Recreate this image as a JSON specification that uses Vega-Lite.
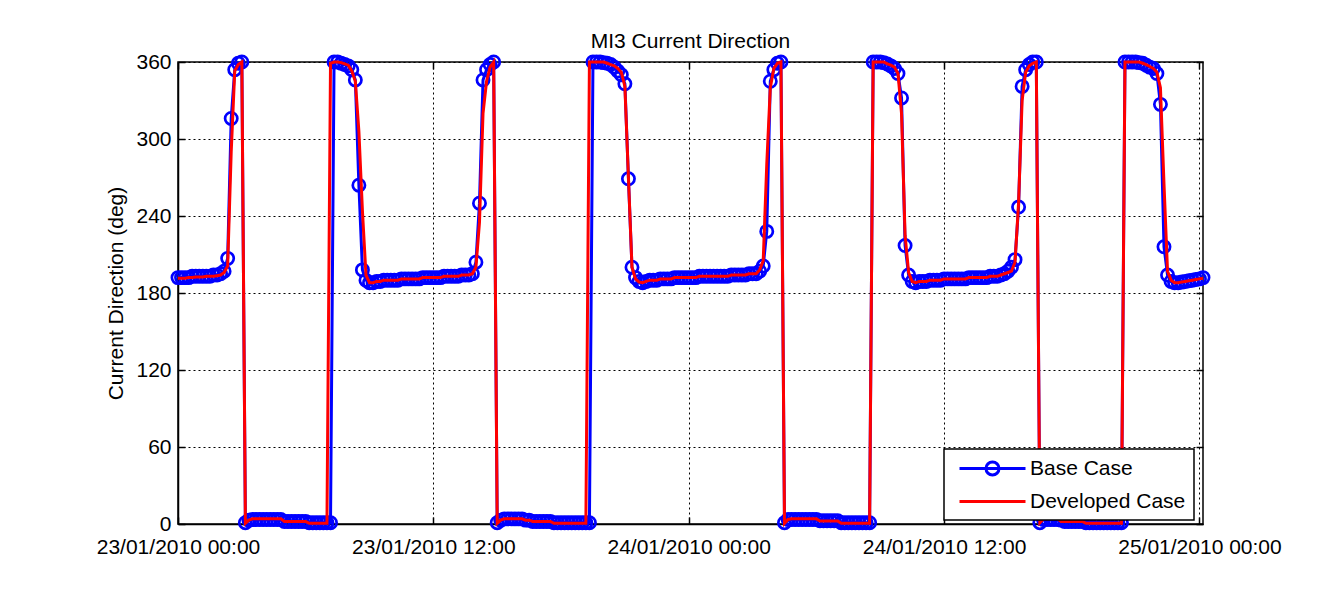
{
  "$schema": "https://vega.github.io/schema/vega-lite/v6.json",
  "width": 1025,
  "height": 462,
  "autosize": {"type": "none"},
  "padding": {"left": 178, "top": 62, "right": 132, "bottom": 76},
  "background": "white",
  "title": {"text": "MI3 Current Direction", "fontSize": 21, "fontWeight": "normal", "font": "Liberation Sans", "color": "black", "frame": "group", "anchor": "middle", "baseline": "alphabetic", "offset": 14, "dy": 33},
  "data": {"values": [
    {"t":"2010-01-23T00:00Z","b":192,"d":191.5},{"t":"2010-01-23T00:10Z","b":192,"d":191.5},{"t":"2010-01-23T00:20Z","b":192,"d":191.5},{"t":"2010-01-23T00:30Z","b":192,"d":192},{"t":"2010-01-23T00:40Z","b":193,"d":192},{"t":"2010-01-23T00:50Z","b":193,"d":192.5},
    {"t":"2010-01-23T01:00Z","b":193,"d":192.5},{"t":"2010-01-23T01:10Z","b":193,"d":192.5},{"t":"2010-01-23T01:20Z","b":193,"d":193},{"t":"2010-01-23T01:30Z","b":193,"d":193},{"t":"2010-01-23T01:40Z","b":194,"d":193},{"t":"2010-01-23T01:50Z","b":194,"d":193.5},
    {"t":"2010-01-23T02:00Z","b":195,"d":194},{"t":"2010-01-23T02:10Z","b":197,"d":196},{"t":"2010-01-23T02:20Z","b":207,"d":201},{"t":"2010-01-23T02:30Z","b":316,"d":290},{"t":"2010-01-23T02:40Z","b":354,"d":353},{"t":"2010-01-23T02:50Z","b":359,"d":358},
    {"t":"2010-01-23T03:00Z","b":360,"d":360},{"t":"2010-01-23T03:10Z","b":1,"d":0.5},{"t":"2010-01-23T03:20Z","b":3,"d":3},{"t":"2010-01-23T03:30Z","b":3.5,"d":4},{"t":"2010-01-23T03:40Z","b":3.5,"d":4},{"t":"2010-01-23T03:50Z","b":3.5,"d":4},
    {"t":"2010-01-23T04:00Z","b":3.5,"d":4},{"t":"2010-01-23T04:10Z","b":3.5,"d":4},{"t":"2010-01-23T04:20Z","b":3.5,"d":4},{"t":"2010-01-23T04:30Z","b":3.5,"d":4},{"t":"2010-01-23T04:40Z","b":3.5,"d":4},{"t":"2010-01-23T04:50Z","b":3.5,"d":4},
    {"t":"2010-01-23T05:00Z","b":2,"d":2},{"t":"2010-01-23T05:10Z","b":2,"d":2},{"t":"2010-01-23T05:20Z","b":2,"d":2},{"t":"2010-01-23T05:30Z","b":2,"d":2},{"t":"2010-01-23T05:40Z","b":2,"d":2},{"t":"2010-01-23T05:50Z","b":2,"d":2},
    {"t":"2010-01-23T06:00Z","b":2,"d":2},{"t":"2010-01-23T06:10Z","b":1,"d":0.5},{"t":"2010-01-23T06:20Z","b":1,"d":0.5},{"t":"2010-01-23T06:30Z","b":1,"d":0.5},{"t":"2010-01-23T06:40Z","b":1,"d":0.5},{"t":"2010-01-23T06:50Z","b":1,"d":0.5},
    {"t":"2010-01-23T07:00Z","b":1,"d":0.5},{"t":"2010-01-23T07:10Z","b":1,"d":359},{"t":"2010-01-23T07:20Z","b":360,"d":360},{"t":"2010-01-23T07:30Z","b":360,"d":360},{"t":"2010-01-23T07:40Z","b":359,"d":359.5},{"t":"2010-01-23T07:50Z","b":358,"d":358.5},
    {"t":"2010-01-23T08:00Z","b":357,"d":357.5},{"t":"2010-01-23T08:10Z","b":354,"d":353},{"t":"2010-01-23T08:20Z","b":346,"d":345},{"t":"2010-01-23T08:30Z","b":264,"d":306},{"t":"2010-01-23T08:40Z","b":198,"d":244},{"t":"2010-01-23T08:50Z","b":190,"d":194},
    {"t":"2010-01-23T09:00Z","b":188,"d":188},{"t":"2010-01-23T09:10Z","b":188,"d":188},{"t":"2010-01-23T09:20Z","b":189,"d":189},{"t":"2010-01-23T09:30Z","b":189,"d":189},{"t":"2010-01-23T09:40Z","b":190,"d":190},{"t":"2010-01-23T09:50Z","b":190,"d":190},
    {"t":"2010-01-23T10:00Z","b":190,"d":190},{"t":"2010-01-23T10:10Z","b":190,"d":190},{"t":"2010-01-23T10:20Z","b":190,"d":190},{"t":"2010-01-23T10:30Z","b":191,"d":191},{"t":"2010-01-23T10:40Z","b":191,"d":191},{"t":"2010-01-23T10:50Z","b":191,"d":191},
    {"t":"2010-01-23T11:00Z","b":191,"d":191},{"t":"2010-01-23T11:10Z","b":191,"d":191},{"t":"2010-01-23T11:20Z","b":191,"d":191},{"t":"2010-01-23T11:30Z","b":192,"d":192},{"t":"2010-01-23T11:40Z","b":192,"d":192},{"t":"2010-01-23T11:50Z","b":192,"d":192},
    {"t":"2010-01-23T12:00Z","b":192,"d":192},{"t":"2010-01-23T12:10Z","b":192,"d":192},{"t":"2010-01-23T12:20Z","b":192,"d":192},{"t":"2010-01-23T12:30Z","b":193,"d":193},{"t":"2010-01-23T12:40Z","b":193,"d":193},{"t":"2010-01-23T12:50Z","b":193,"d":193},
    {"t":"2010-01-23T13:00Z","b":193,"d":193},{"t":"2010-01-23T13:10Z","b":193,"d":193},{"t":"2010-01-23T13:20Z","b":194,"d":194},{"t":"2010-01-23T13:30Z","b":194,"d":194},{"t":"2010-01-23T13:40Z","b":194,"d":194},{"t":"2010-01-23T13:50Z","b":195,"d":195},
    {"t":"2010-01-23T14:00Z","b":204,"d":200},{"t":"2010-01-23T14:10Z","b":250,"d":235},{"t":"2010-01-23T14:20Z","b":346,"d":320},{"t":"2010-01-23T14:30Z","b":354,"d":345},{"t":"2010-01-23T14:40Z","b":358,"d":356},{"t":"2010-01-23T14:50Z","b":360,"d":360},
    {"t":"2010-01-23T15:00Z","b":1,"d":0.5},{"t":"2010-01-23T15:10Z","b":3,"d":3},{"t":"2010-01-23T15:20Z","b":4,"d":4},{"t":"2010-01-23T15:30Z","b":4,"d":4},{"t":"2010-01-23T15:40Z","b":4,"d":4},{"t":"2010-01-23T15:50Z","b":4,"d":4},
    {"t":"2010-01-23T16:00Z","b":4,"d":4},{"t":"2010-01-23T16:10Z","b":4,"d":4},{"t":"2010-01-23T16:20Z","b":3,"d":3},{"t":"2010-01-23T16:30Z","b":3,"d":3},{"t":"2010-01-23T16:40Z","b":2,"d":2},{"t":"2010-01-23T16:50Z","b":2,"d":2},
    {"t":"2010-01-23T17:00Z","b":2,"d":2},{"t":"2010-01-23T17:10Z","b":2,"d":2},{"t":"2010-01-23T17:20Z","b":2,"d":2},{"t":"2010-01-23T17:30Z","b":2,"d":2},{"t":"2010-01-23T17:40Z","b":1,"d":0.5},{"t":"2010-01-23T17:50Z","b":1,"d":0.5},
    {"t":"2010-01-23T18:00Z","b":1,"d":0.5},{"t":"2010-01-23T18:10Z","b":1,"d":0.5},{"t":"2010-01-23T18:20Z","b":1,"d":0.5},{"t":"2010-01-23T18:30Z","b":1,"d":0.5},{"t":"2010-01-23T18:40Z","b":1,"d":0.5},{"t":"2010-01-23T18:50Z","b":1,"d":0.5},
    {"t":"2010-01-23T19:00Z","b":1,"d":0.5},{"t":"2010-01-23T19:10Z","b":1,"d":0.5},{"t":"2010-01-23T19:20Z","b":1,"d":360},{"t":"2010-01-23T19:30Z","b":360,"d":360},{"t":"2010-01-23T19:40Z","b":360,"d":360},{"t":"2010-01-23T19:50Z","b":360,"d":360},
    {"t":"2010-01-23T20:00Z","b":359.5,"d":360},{"t":"2010-01-23T20:10Z","b":359,"d":359},{"t":"2010-01-23T20:20Z","b":358,"d":358},{"t":"2010-01-23T20:30Z","b":356,"d":357},{"t":"2010-01-23T20:40Z","b":353,"d":355},{"t":"2010-01-23T20:50Z","b":350,"d":352},
    {"t":"2010-01-23T21:00Z","b":343,"d":341},{"t":"2010-01-23T21:10Z","b":269,"d":270},{"t":"2010-01-23T21:20Z","b":200,"d":200},{"t":"2010-01-23T21:30Z","b":192,"d":191},{"t":"2010-01-23T21:40Z","b":189,"d":188.5},{"t":"2010-01-23T21:50Z","b":188,"d":188},
    {"t":"2010-01-23T22:00Z","b":189,"d":189},{"t":"2010-01-23T22:10Z","b":190,"d":190},{"t":"2010-01-23T22:20Z","b":190,"d":190},{"t":"2010-01-23T22:30Z","b":190,"d":190},{"t":"2010-01-23T22:40Z","b":191,"d":191},{"t":"2010-01-23T22:50Z","b":191,"d":191},
    {"t":"2010-01-23T23:00Z","b":191,"d":191},{"t":"2010-01-23T23:10Z","b":191,"d":191},{"t":"2010-01-23T23:20Z","b":192,"d":192},{"t":"2010-01-23T23:30Z","b":192,"d":192},{"t":"2010-01-23T23:40Z","b":192,"d":192},{"t":"2010-01-23T23:50Z","b":192,"d":192},
    {"t":"2010-01-24T00:00Z","b":192,"d":192},{"t":"2010-01-24T00:10Z","b":192,"d":192},{"t":"2010-01-24T00:20Z","b":192,"d":192},{"t":"2010-01-24T00:30Z","b":193,"d":193},{"t":"2010-01-24T00:40Z","b":193,"d":193},{"t":"2010-01-24T00:50Z","b":193,"d":193},
    {"t":"2010-01-24T01:00Z","b":193,"d":193},{"t":"2010-01-24T01:10Z","b":193,"d":193},{"t":"2010-01-24T01:20Z","b":193,"d":193},{"t":"2010-01-24T01:30Z","b":193,"d":193},{"t":"2010-01-24T01:40Z","b":193,"d":193},{"t":"2010-01-24T01:50Z","b":193,"d":193},
    {"t":"2010-01-24T02:00Z","b":194,"d":194},{"t":"2010-01-24T02:10Z","b":194,"d":194},{"t":"2010-01-24T02:20Z","b":194,"d":194},{"t":"2010-01-24T02:30Z","b":194,"d":194},{"t":"2010-01-24T02:40Z","b":194,"d":194},{"t":"2010-01-24T02:50Z","b":195,"d":195},
    {"t":"2010-01-24T03:00Z","b":195,"d":195},{"t":"2010-01-24T03:10Z","b":195,"d":195},{"t":"2010-01-24T03:20Z","b":197,"d":198},{"t":"2010-01-24T03:30Z","b":201,"d":205},{"t":"2010-01-24T03:40Z","b":228,"d":280},{"t":"2010-01-24T03:50Z","b":345,"d":340},
    {"t":"2010-01-24T04:00Z","b":354,"d":355},{"t":"2010-01-24T04:10Z","b":359,"d":359},{"t":"2010-01-24T04:20Z","b":360,"d":360},{"t":"2010-01-24T04:30Z","b":1,"d":0.5},{"t":"2010-01-24T04:40Z","b":3.5,"d":3.5},{"t":"2010-01-24T04:50Z","b":3.5,"d":4},
    {"t":"2010-01-24T05:00Z","b":3.5,"d":4},{"t":"2010-01-24T05:10Z","b":3.5,"d":4},{"t":"2010-01-24T05:20Z","b":3.5,"d":4},{"t":"2010-01-24T05:30Z","b":3.5,"d":4},{"t":"2010-01-24T05:40Z","b":3.5,"d":4},{"t":"2010-01-24T05:50Z","b":3.5,"d":4},
    {"t":"2010-01-24T06:00Z","b":3.5,"d":4},{"t":"2010-01-24T06:10Z","b":2.5,"d":2.3},{"t":"2010-01-24T06:20Z","b":2.5,"d":2.3},{"t":"2010-01-24T06:30Z","b":2.5,"d":2.3},{"t":"2010-01-24T06:40Z","b":2.5,"d":2.3},{"t":"2010-01-24T06:50Z","b":2.5,"d":2.3},
    {"t":"2010-01-24T07:00Z","b":2.5,"d":2.3},{"t":"2010-01-24T07:10Z","b":1,"d":0.5},{"t":"2010-01-24T07:20Z","b":1,"d":0.5},{"t":"2010-01-24T07:30Z","b":1,"d":0.5},{"t":"2010-01-24T07:40Z","b":1,"d":0.5},{"t":"2010-01-24T07:50Z","b":1,"d":0.5},
    {"t":"2010-01-24T08:00Z","b":1,"d":0.5},{"t":"2010-01-24T08:10Z","b":1,"d":0.5},{"t":"2010-01-24T08:20Z","b":1,"d":0.5},{"t":"2010-01-24T08:30Z","b":1,"d":0.5},{"t":"2010-01-24T08:40Z","b":360,"d":360},{"t":"2010-01-24T08:50Z","b":360,"d":360},
    {"t":"2010-01-24T09:00Z","b":360,"d":360},{"t":"2010-01-24T09:10Z","b":359.5,"d":360},{"t":"2010-01-24T09:20Z","b":358.5,"d":358.5},{"t":"2010-01-24T09:30Z","b":357,"d":357.5},{"t":"2010-01-24T09:40Z","b":355,"d":356},{"t":"2010-01-24T09:50Z","b":351,"d":351},
    {"t":"2010-01-24T10:00Z","b":332,"d":320},{"t":"2010-01-24T10:10Z","b":217,"d":225},{"t":"2010-01-24T10:20Z","b":194,"d":196},{"t":"2010-01-24T10:30Z","b":189,"d":189},{"t":"2010-01-24T10:40Z","b":188,"d":188},{"t":"2010-01-24T10:50Z","b":189,"d":189},
    {"t":"2010-01-24T11:00Z","b":189,"d":189},{"t":"2010-01-24T11:10Z","b":189,"d":189},{"t":"2010-01-24T11:20Z","b":190,"d":190},{"t":"2010-01-24T11:30Z","b":190,"d":190},{"t":"2010-01-24T11:40Z","b":190,"d":190},{"t":"2010-01-24T11:50Z","b":190,"d":190},
    {"t":"2010-01-24T12:00Z","b":191,"d":191},{"t":"2010-01-24T12:10Z","b":191,"d":191},{"t":"2010-01-24T12:20Z","b":191,"d":191},{"t":"2010-01-24T12:30Z","b":191,"d":191},{"t":"2010-01-24T12:40Z","b":191,"d":191},{"t":"2010-01-24T12:50Z","b":191,"d":191},
    {"t":"2010-01-24T13:00Z","b":191,"d":191},{"t":"2010-01-24T13:10Z","b":192,"d":192},{"t":"2010-01-24T13:20Z","b":192,"d":192},{"t":"2010-01-24T13:30Z","b":192,"d":192},{"t":"2010-01-24T13:40Z","b":192,"d":192},{"t":"2010-01-24T13:50Z","b":192,"d":192},
    {"t":"2010-01-24T14:00Z","b":192,"d":192},{"t":"2010-01-24T14:10Z","b":193,"d":193},{"t":"2010-01-24T14:20Z","b":193,"d":193},{"t":"2010-01-24T14:30Z","b":193,"d":193},{"t":"2010-01-24T14:40Z","b":194,"d":194},{"t":"2010-01-24T14:50Z","b":195,"d":195},
    {"t":"2010-01-24T15:00Z","b":197,"d":196},{"t":"2010-01-24T15:10Z","b":200,"d":197},{"t":"2010-01-24T15:20Z","b":206,"d":204},{"t":"2010-01-24T15:30Z","b":247,"d":250},{"t":"2010-01-24T15:40Z","b":341,"d":330},{"t":"2010-01-24T15:50Z","b":354,"d":352},
    {"t":"2010-01-24T16:00Z","b":358,"d":357},{"t":"2010-01-24T16:10Z","b":360,"d":359},{"t":"2010-01-24T16:20Z","b":360,"d":360},{"t":"2010-01-24T16:30Z","b":1,"d":1},{"t":"2010-01-24T16:40Z","b":3.5,"d":4},{"t":"2010-01-24T16:50Z","b":3.5,"d":4},
    {"t":"2010-01-24T17:00Z","b":3.5,"d":4},{"t":"2010-01-24T17:10Z","b":3.5,"d":4},{"t":"2010-01-24T17:20Z","b":3.5,"d":4},{"t":"2010-01-24T17:30Z","b":3,"d":2},{"t":"2010-01-24T17:40Z","b":2,"d":2},{"t":"2010-01-24T17:50Z","b":2,"d":2},
    {"t":"2010-01-24T18:00Z","b":2,"d":2},{"t":"2010-01-24T18:10Z","b":2,"d":2},{"t":"2010-01-24T18:20Z","b":2,"d":2},{"t":"2010-01-24T18:30Z","b":2,"d":2},{"t":"2010-01-24T18:40Z","b":1,"d":0.5},{"t":"2010-01-24T18:50Z","b":1,"d":0.5},
    {"t":"2010-01-24T19:00Z","b":1,"d":0.5},{"t":"2010-01-24T19:10Z","b":1,"d":0.5},{"t":"2010-01-24T19:20Z","b":1,"d":0.5},{"t":"2010-01-24T19:30Z","b":1,"d":0.5},{"t":"2010-01-24T19:40Z","b":1,"d":0.5},{"t":"2010-01-24T19:50Z","b":1,"d":0.5},
    {"t":"2010-01-24T20:00Z","b":1,"d":0.5},{"t":"2010-01-24T20:10Z","b":1,"d":0.5},{"t":"2010-01-24T20:20Z","b":1,"d":0.5},{"t":"2010-01-24T20:30Z","b":360,"d":360},{"t":"2010-01-24T20:40Z","b":360,"d":360},{"t":"2010-01-24T20:50Z","b":360,"d":360},
    {"t":"2010-01-24T21:00Z","b":360,"d":360},{"t":"2010-01-24T21:10Z","b":359.5,"d":360},{"t":"2010-01-24T21:20Z","b":359,"d":359},{"t":"2010-01-24T21:30Z","b":357.5,"d":358},{"t":"2010-01-24T21:40Z","b":356,"d":356.5},{"t":"2010-01-24T21:50Z","b":355,"d":355},
    {"t":"2010-01-24T22:00Z","b":351,"d":352},{"t":"2010-01-24T22:10Z","b":327,"d":340},{"t":"2010-01-24T22:20Z","b":216,"d":265},{"t":"2010-01-24T22:30Z","b":194,"d":197},{"t":"2010-01-24T22:40Z","b":189,"d":190},{"t":"2010-01-24T22:50Z","b":188,"d":188},
    {"t":"2010-01-24T23:00Z","b":188,"d":188},{"t":"2010-01-24T23:10Z","b":188.5,"d":188.5},{"t":"2010-01-24T23:20Z","b":189,"d":189},{"t":"2010-01-24T23:30Z","b":189.5,"d":189.5},{"t":"2010-01-24T23:40Z","b":190,"d":190},{"t":"2010-01-24T23:50Z","b":190.5,"d":190.5},
    {"t":"2010-01-25T00:00Z","b":191,"d":191},{"t":"2010-01-25T00:10Z","b":192,"d":191.5}
  ]},
  "config": {
    "view": {"stroke": "black", "strokeWidth": 1.5},
    "axis": {"labelFont": "Liberation Sans", "labelFontSize": 21, "labelColor": "black", "titleFont": "Liberation Sans", "titleFontSize": 21, "titleFontWeight": "normal", "titleColor": "black", "domainColor": "black", "domainWidth": 1.5, "tickColor": "black", "tickWidth": 1.5, "tickSize": -7, "gridColor": "black", "gridDash": [2, 3], "gridOpacity": 1, "gridWidth": 1},
    "legend": {"orient": "none", "legendX": 766, "legendY": 387, "fillColor": "white", "strokeColor": "black", "strokeWidth": 1.5, "padding": 8, "symbolSize": 400, "symbolStrokeWidth": 3, "symbolOpacity": 1, "symbolFillColor": "transparent", "symbolOffset": 29, "labelFont": "Liberation Sans", "labelFontSize": 21, "labelColor": "black", "labelOffset": 26, "rowPadding": 9, "labelLimit": 0}
  },
  "resolve": {"axis": {"x": "independent", "y": "independent"}},
  "layer": [
    {
      "mark": {"type": "line", "color": "#0000ff", "strokeWidth": 3},
      "encoding": {
        "x": {"field": "t", "type": "temporal", "scale": {"type": "utc", "domain": [1264204800000, 1264378200000], "nice": false}, "axis": {"values": [1264204800000, 1264248000000, 1264291200000, 1264334400000, 1264377600000], "format": "%d/%m/%Y %H:%M", "title": null, "grid": true, "labelPadding": 19, "labelOverlap": false, "labelFlush": false}},
        "y": {"field": "b", "type": "quantitative", "scale": {"domain": [0, 360], "nice": false, "zero": false}, "axis": {"values": [0, 60, 120, 180, 240, 300, 360], "title": "Current Direction (deg)", "grid": true, "labelPadding": 14, "titlePadding": 9}}
      }
    },
    {
      "mark": {"type": "point", "shape": "circle", "filled": false, "color": "#0000ff", "strokeWidth": 2.7, "size": 150, "opacity": 1},
      "encoding": {
        "x": {"field": "t", "type": "temporal", "axis": null},
        "y": {"field": "b", "type": "quantitative", "axis": null}
      }
    },
    {
      "mark": {"type": "line", "color": "#ff0000", "strokeWidth": 3},
      "encoding": {
        "x": {"field": "t", "type": "temporal", "axis": null},
        "y": {"field": "d", "type": "quantitative", "axis": null}
      }
    },
    {
      "transform": [{"fold": ["b", "d"], "as": ["series", "v"]}],
      "mark": {"type": "point", "opacity": 0, "filled": false},
      "encoding": {
        "x": {"field": "t", "type": "temporal", "axis": {"orient": "top", "values": [1264204800000, 1264248000000, 1264291200000, 1264334400000, 1264377600000], "labels": false, "title": null, "grid": false, "domain": false, "minExtent": 0, "maxExtent": 0}},
        "y": {"field": "v", "type": "quantitative", "axis": {"orient": "right", "values": [0, 60, 120, 180, 240, 300, 360], "labels": false, "title": null, "grid": false, "domain": false, "minExtent": 0, "maxExtent": 0}},
        "color": {"field": "series", "type": "nominal", "scale": {"domain": ["b", "d"], "range": ["#0000ff", "#ff0000"]}, "legend": {"title": null, "symbolOpacity": 1, "labelExpr": "datum.label == 'b' ? 'Base Case' : 'Developed Case'"}},
        "shape": {"field": "series", "type": "nominal", "scale": {"domain": ["b", "d"], "range": ["M-3.3,0H3.3M0.65,0A0.65,0.65 0 1,1 -0.65,0A0.65,0.65 0 1,1 0.65,0", "M-3.3,0H3.3"]}, "legend": {"title": null, "symbolOpacity": 1, "labelExpr": "datum.label == 'b' ? 'Base Case' : 'Developed Case'"}}
      }
    }
  ]
}
